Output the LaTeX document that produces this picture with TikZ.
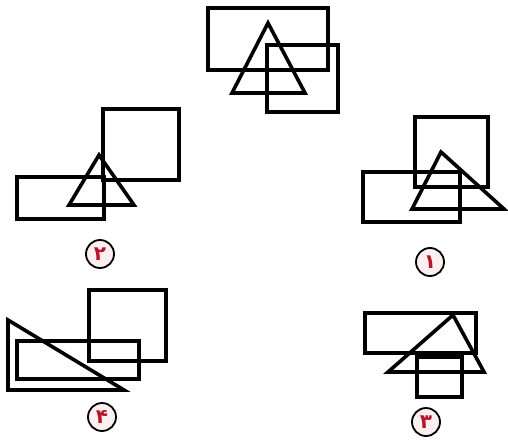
\documentclass[tikz,border=0pt]{standalone}
\usepackage{fontspec}
\newfontfamily\arabicfont[Script=Arabic]{DejaVu Sans}
\definecolor{labred}{HTML}{B5142B}
\definecolor{labfill}{HTML}{FBEFF0}
\tikzset{
  figline/.style={draw=black, line width=3.6pt, line join=miter},
  lab/.style={circle, draw=black, line width=1.8pt, fill=labfill, minimum size=28pt, inner sep=0pt,
    text=labred, font=\arabicfont\fontsize{20}{20}\selectfont\bfseries}
}
\begin{document}
\begin{tikzpicture}[x=1pt,y=-1pt]
\useasboundingbox (0,0) rectangle (508,441);
% top figure
\draw[figline] (208,8) rectangle (328,70);
\draw[figline] (267,45) rectangle (338,112);
\draw[figline] (268,23) -- (232,93) -- (305,93) -- cycle;
% figure 1
\draw[figline] (415,117) rectangle (488,187);
\draw[figline] (363,172) rectangle (460,222);
\draw[figline] (441,152) -- (412,209) -- (504,209) -- cycle;
\node[lab] (l1) at (430,262) {۱};
% figure 2
\draw[figline] (103,109) rectangle (179,180);
\draw[figline] (17,177) rectangle (104,219);
\draw[figline] (99,155) -- (69,205) -- (134,205) -- cycle;
\node[lab] (l2) at (100,254) {۲};
% figure 3
\draw[figline] (365,313) rectangle (476,353);
\draw[figline] (417,357) rectangle (462,397);
\draw[figline] (453,315) -- (388,372) -- (484,372) -- cycle;
\node[lab] (l3) at (426,422) {۳};
% figure 4
\draw[figline] (89,290) rectangle (166,361);
\draw[figline] (17,341) rectangle (139,379);
\draw[figline] (8,320) -- (8,390) -- (124,390) -- cycle;
\node[lab] (l4) at (102,417) {۴};
\end{tikzpicture}
\end{document}
